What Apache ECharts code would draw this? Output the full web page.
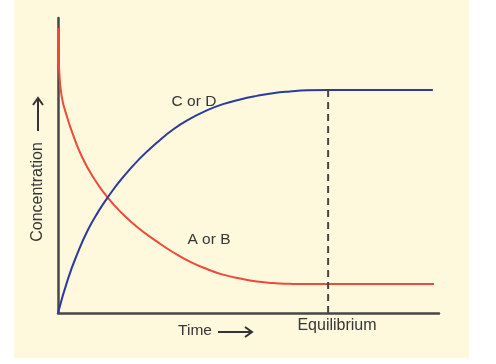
<!DOCTYPE html>
<html>
<head>
<meta charset="utf-8">
<script src="https://cdn.jsdelivr.net/npm/echarts@6/dist/echarts.min.js"></script>
<style>
html,body{margin:0;padding:0;background:#ffffff;}
#chart{width:496px;height:364px;}
</style>
</head>
<body>
<div id="chart"></div>
<script>
// Product (C or D): [time, concentration]
var productCD = [[0,0],[2.6,11.5],[5.2,20.5],[7.9,28.3],[10.5,34.2],[13.1,39.3],[16.8,45.6],[21.5,52.4],[26.0,57.8],[30.2,62.2],[34.6,65.8],[39.1,68.7],[43.3,70.8],[47.8,72.4],[52.2,73.6],[56.4,74.5],[60.9,75.1],[65.4,75.5],[70.9,75.6],[98.4,75.6]];
// Reactant (A or B): [time, concentration]
var reactantAB = [[0,96.6],[0.1,89.2],[0.3,82.4],[1.0,73.2],[2.4,66.4],[3.7,61.3],[6.3,52.9],[9.7,45.1],[13.1,39.0],[16.8,33.8],[21.0,28.9],[26.0,24.2],[30.2,20.6],[34.6,17.4],[39.1,14.9],[43.3,13.0],[47.8,11.7],[52.2,10.7],[56.4,10.15],[60.9,9.9],[65.4,9.8],[70.9,9.8],[98.7,9.8]];
// Equilibrium marker
var equilibriumTime = 70.9;
var equilibriumTop = 75.6;
var labels = {product: 'C or D', reactant: 'A or B', x: 'Time', y: 'Concentration', eq: 'Equilibrium'};

var chart = echarts.init(document.getElementById('chart'), null, {renderer: 'canvas'});
var textColor = '#363636';
var font = 'Liberation Sans, Arial, sans-serif';
var option = {
  backgroundColor: '#ffffff',
  animation: false,
  grid: {left: 58, top: 18, right: 57, bottom: 51},
  xAxis: {
    type: 'value', min: 0, max: 100,
    axisLine: {show: true, lineStyle: {color: '#474747', width: 2.5}},
    axisTick: {show: false}, axisLabel: {show: false}, splitLine: {show: false}
  },
  yAxis: {
    type: 'value', min: 0, max: 100,
    axisLine: {show: true, lineStyle: {color: '#474747', width: 2.5}},
    axisTick: {show: false}, axisLabel: {show: false}, splitLine: {show: false}
  },
  graphic: [
    {type: 'rect', z: -100, silent: true, shape: {x: 14, y: 0, width: 455, height: 358}, style: {fill: '#fef9dc'}},
    {type: 'text', x: 194, y: 102, style: {text: labels.product, font: '15.5px ' + font, fill: textColor, textAlign: 'center', textVerticalAlign: 'middle'}},
    {type: 'text', x: 209, y: 240, style: {text: labels.reactant, font: '15.5px ' + font, fill: textColor, textAlign: 'center', textVerticalAlign: 'middle'}},
    {type: 'text', x: 195, y: 331, style: {text: labels.x, font: '15.5px ' + font, fill: textColor, textAlign: 'center', textVerticalAlign: 'middle'}},
    {type: 'text', x: 337, y: 326, style: {text: labels.eq, font: '16px ' + font, fill: textColor, textAlign: 'center', textVerticalAlign: 'middle'}},
    {type: 'text', x: 38, y: 192, rotation: Math.PI / 2, style: {text: labels.y, font: '16px ' + font, fill: textColor, textAlign: 'center', textVerticalAlign: 'middle'}},
    {type: 'line', shape: {x1: 218, y1: 332, x2: 252, y2: 332}, style: {stroke: '#333', lineWidth: 2}},
    {type: 'polyline', shape: {points: [[245, 327], [252, 332], [245, 337]]}, style: {stroke: '#333', lineWidth: 2, fill: null}},
    {type: 'line', shape: {x1: 38, y1: 98, x2: 38, y2: 131}, style: {stroke: '#333', lineWidth: 2}},
    {type: 'polyline', shape: {points: [[33, 105], [38, 98], [43, 105]]}, style: {stroke: '#333', lineWidth: 2, fill: null}}
  ],
  series: [
    {
      type: 'line', data: reactantAB, smooth: 0.5, symbol: 'none',
      lineStyle: {color: '#ec4a3a', width: 2}
    },
    {
      type: 'line', data: productCD, smooth: 0.5, symbol: 'none',
      lineStyle: {color: '#2b3a9e', width: 2}
    },
    {
      type: 'line', data: [[equilibriumTime, 0], [equilibriumTime, equilibriumTop]], symbol: 'none',
      lineStyle: {color: '#444444', width: 2, type: [7, 5]}
    }
  ]
};
chart.setOption(option);
</script>
</body>
</html>
